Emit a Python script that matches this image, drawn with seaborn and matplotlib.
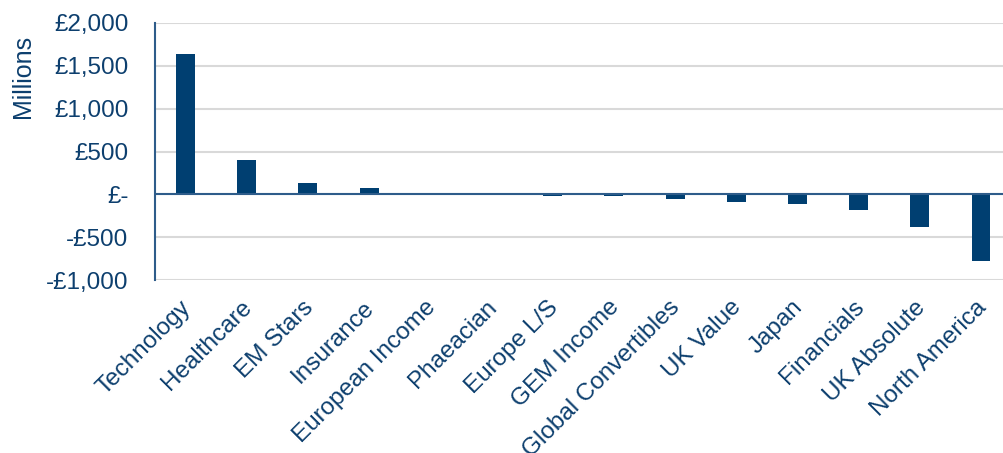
import matplotlib
matplotlib.use("Agg")
import matplotlib.pyplot as plt
import matplotlib.transforms as mtransforms
import seaborn as sns

categories = ["Technology", "Healthcare", "EM Stars", "Insurance", "European Income",
              "Phaeacian", "Europe L/S", "GEM Income", "Global Convertibles", "UK Value",
              "Japan", "Financials", "UK Absolute", "North America"]
values = [1640, 400, 132, 78, 3, -8, -15, -15, -60, -90, -115, -185, -380, -780]
ytick_values = [-1000, -500, 0, 500, 1000, 1500, 2000]
ytick_labels = ["-£1,000", "-£500", "£-", "£500", "£1,000", "£1,500", "£2,000"]

sns.set_theme(style="white")
plt.rcParams['font.family'] = ['Liberation Sans', 'DejaVu Sans']

BAR = "#003F71"
TXT = "#0D3F6E"

fig = plt.figure(figsize=(10.04, 4.53), dpi=100)
ax = fig.add_axes([155/1004, (453-280)/453, (1011.6-155)/1004, (280-23)/453])

sns.barplot(x=categories, y=values, color=BAR, width=0.31, saturation=1,
            edgecolor="none", ax=ax, zorder=3)

ax.set_xlim(-0.5, 13.5)
ax.set_ylim(-1000, 2000)
ax.set_yticks(ytick_values)
ax.set_yticklabels(ytick_labels)
ax.yaxis.grid(True, color="#D9D9D9", linewidth=1.5, zorder=0)
ax.set_axisbelow(True)
ax.axhline(0, color="#2E5C8A", linewidth=1.5, zorder=4)

for s in ["top", "right", "bottom"]:
    ax.spines[s].set_visible(False)
ax.spines["left"].set_color("#2E5C8A")
ax.spines["left"].set_linewidth(1.5)

ax.tick_params(axis="y", length=0, pad=19, labelsize=17.5, labelcolor=TXT)
ax.tick_params(axis="x", length=0, pad=6, labelsize=17.5, labelcolor=TXT)
offset = mtransforms.ScaledTranslation(-6/100, -8/100, fig.dpi_scale_trans)
for lab in ax.get_xticklabels():
    lab.set_rotation(45)
    lab.set_ha("right")
    lab.set_rotation_mode("anchor")
    lab.set_transform(lab.get_transform() + offset)

ax.set_xlabel("")
ax.set_ylabel("")
fig.text(23/1004, 1 - 76/453, "Millions", rotation=90, ha="center", va="center",
         fontsize=18, color=TXT)

fig.savefig("out.png", dpi=100)
